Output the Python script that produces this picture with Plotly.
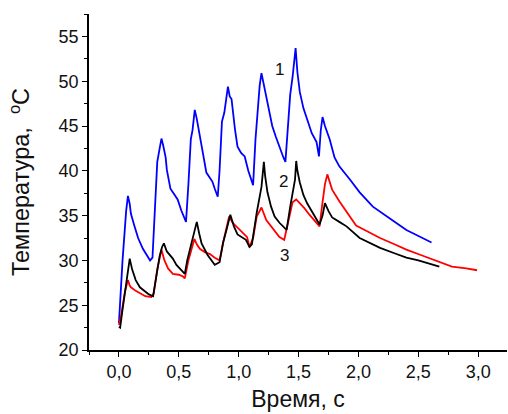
import plotly.graph_objects as go

# Curve 1 (blue)
t1 = [0.0, 0.03, 0.06, 0.075, 0.09, 0.10, 0.13, 0.16, 0.20, 0.23, 0.26, 0.28, 0.30, 0.32, 0.34, 0.355,
      0.37, 0.39, 0.40, 0.43, 0.46, 0.49, 0.52, 0.545, 0.56, 0.58, 0.60, 0.615, 0.633, 0.65, 0.675,
      0.70, 0.73, 0.76, 0.78, 0.80, 0.825, 0.84, 0.86, 0.88, 0.90, 0.91, 0.925, 0.94, 0.97, 0.99,
      1.02, 1.05, 1.08, 1.11, 1.12, 1.14, 1.16, 1.175, 1.19, 1.21, 1.23, 1.26, 1.28, 1.31, 1.34,
      1.37, 1.39, 1.41, 1.43, 1.45, 1.475, 1.49, 1.51, 1.54, 1.57, 1.61, 1.65, 1.67, 1.685, 1.70,
      1.72, 1.76, 1.80, 1.84, 1.93, 2.01, 2.12, 2.20, 2.28, 2.40, 2.50, 2.59, 2.61]
T1 = [23.0, 30.0, 35.5, 37.2, 36.3, 35.2, 33.8, 32.5, 31.3, 30.6, 30.0, 30.3, 36.5, 41.0, 42.5, 43.6,
      42.8, 41.5, 40.1, 38.0, 37.4, 36.8, 35.6, 34.8, 34.3, 38.5, 43.5, 44.6, 46.8, 45.8, 44.0,
      42.0, 39.8, 39.2, 38.8, 38.0, 37.1, 40.0, 45.5, 46.5, 48.8, 49.4, 48.3, 48.0, 44.5, 42.7,
      42.0, 41.6, 40.0, 38.8, 38.4, 43.5, 47.5, 49.5, 50.9, 49.5, 48.3, 46.0, 45.0, 43.8, 42.6,
      41.6, 41.0, 44.5, 48.5, 50.5, 53.7, 51.0, 48.8, 47.0, 45.7, 44.2, 43.2, 41.6, 44.5, 46.0,
      45.0, 43.5, 41.5, 40.5, 39.0, 37.6, 36.0, 35.2, 34.5, 33.4, 32.7, 32.1, 32.0]

# Curve 2 (black)
t2 = [0.0, 0.01, 0.03, 0.06, 0.08, 0.09, 0.11, 0.14, 0.175, 0.21, 0.25, 0.285, 0.31, 0.34, 0.36, 0.375,
      0.40, 0.45, 0.48, 0.51, 0.55, 0.57, 0.60, 0.63, 0.65, 0.67, 0.69, 0.74, 0.78, 0.80, 0.84,
      0.87, 0.90, 0.93, 0.96, 0.99, 1.06, 1.09, 1.11, 1.15, 1.19, 1.21, 1.22, 1.24, 1.27, 1.30,
      1.34, 1.38, 1.40, 1.43, 1.47, 1.48, 1.49, 1.51, 1.54, 1.57, 1.62, 1.675, 1.70, 1.72, 1.75,
      1.78, 1.84, 1.90, 2.01, 2.10, 2.18, 2.30, 2.40, 2.50, 2.57, 2.675]
T2 = [22.6, 22.5, 24.5, 27.5, 29.5, 30.2, 29.0, 27.8, 27.0, 26.6, 26.2, 26.0, 28.0, 30.5, 31.5, 31.9,
      31.0, 30.2, 29.5, 29.1, 28.5, 30.0, 31.5, 33.0, 34.3, 33.0, 31.9, 30.6, 29.8, 29.5, 29.8,
      32.0, 33.5, 35.1, 33.8, 32.9, 32.3, 31.5, 31.8, 35.3, 38.2, 41.0, 39.5, 37.6, 36.0, 34.9,
      34.2, 33.6, 33.4, 36.0, 39.0, 41.1, 40.0, 38.7, 37.3, 36.4, 35.3, 34.0, 35.0, 36.4, 35.5,
      34.8, 34.3, 33.8, 32.5, 31.9, 31.4, 30.8, 30.3, 30.0, 29.7, 29.3]

# Curve 3 (red)
t3 = [0.0, 0.02, 0.05, 0.075, 0.09, 0.10, 0.14, 0.175, 0.22, 0.27, 0.29, 0.32, 0.355, 0.38, 0.41, 0.45,
      0.50, 0.535, 0.55, 0.58, 0.61, 0.63, 0.65, 0.675, 0.72, 0.76, 0.80, 0.84, 0.87, 0.90, 0.92,
      0.95, 0.98, 1.03, 1.07, 1.09, 1.12, 1.15, 1.19, 1.23, 1.28, 1.34, 1.38, 1.41, 1.45, 1.48,
      1.51, 1.55, 1.59, 1.66, 1.675, 1.70, 1.72, 1.74, 1.76, 1.78, 1.84, 1.87, 1.98, 2.08, 2.18,
      2.30, 2.40, 2.52, 2.62, 2.70, 2.78, 2.90, 2.99]
T3 = [22.8, 24.0, 26.5, 27.8, 27.2, 27.0, 26.6, 26.3, 26.0, 25.9, 26.3, 29.0, 31.2, 30.0, 29.1, 28.5,
      28.4, 28.2, 28.0, 30.0, 31.5, 32.4, 31.8, 31.3, 30.9, 30.7, 30.3, 30.0, 32.0, 33.8, 34.9,
      34.2, 33.8, 33.2, 32.6, 31.5, 32.5, 34.9, 35.9, 34.5, 33.6, 32.6, 32.3, 34.0, 36.5, 36.8,
      36.4, 35.8, 35.1, 34.0, 33.8, 36.5, 38.5, 39.6, 38.8, 37.9, 36.6, 36.0, 33.9, 33.2, 32.5,
      31.8, 31.2, 30.6, 30.1, 29.7, 29.3, 29.1, 28.9]

labels = ["1", "2", "3"]
label_x = [1.34, 1.37, 1.38]
label_y = [51.3, 38.8, 30.6]

x_ticks = [0.0, 0.5, 1.0, 1.5, 2.0, 2.5, 3.0]
y_ticks = [20, 25, 30, 35, 40, 45, 50, 55]

FONT = "Liberation Sans, Arial, sans-serif"
TXT = "#111111"

fig = go.Figure()
fig.add_trace(go.Scatter(x=t1, y=T1, mode="lines", line=dict(color="#0000ff", width=1.8), showlegend=False))
fig.add_trace(go.Scatter(x=t3, y=T3, mode="lines", line=dict(color="#ff0000", width=1.8), showlegend=False))
fig.add_trace(go.Scatter(x=t2, y=T2, mode="lines", line=dict(color="#000000", width=1.8), showlegend=False))

for s, lx, ly in zip(labels, label_x, label_y):
    fig.add_annotation(x=lx, y=ly, text=s, showarrow=False,
                       font=dict(family=FONT, size=17, color=TXT))

fig.update_layout(
    width=508, height=414,
    margin=dict(l=89, r=1, t=14, b=64),
    paper_bgcolor="white", plot_bgcolor="white",
    separators=", ",
    font=dict(family=FONT, color=TXT),
)
fig.update_xaxes(
    range=[-0.25, 3.24], tickvals=x_ticks, tickformat=".1f",
    showgrid=False, zeroline=False,
    showline=True, linecolor="black", linewidth=1.5,
    ticks="outside", ticklen=5, tickwidth=1.2, tickcolor="black",
    minor=dict(ticks="outside", ticklen=3, tickwidth=1.2, tickcolor="black", dtick=0.25, tick0=0.25, showgrid=False),
    tickfont=dict(size=18, family=FONT, color=TXT),
    title=dict(text="Время, с", font=dict(size=23, family=FONT, color=TXT), standoff=10),
)
fig.update_yaxes(
    range=[20, 57.5], tickvals=y_ticks,
    showgrid=False, zeroline=False,
    showline=True, linecolor="black", linewidth=1.5,
    ticks="outside", ticklen=5, tickwidth=1.2, tickcolor="black",
    minor=dict(ticks="outside", ticklen=3, tickwidth=1.2, tickcolor="black", dtick=2.5, tick0=22.5, showgrid=False),
    tickfont=dict(size=18, family=FONT, color=TXT),
    title=dict(text="Температура,  <sup>o</sup>C", font=dict(size=23.5, family=FONT, color=TXT), standoff=22),
)

fig.write_html("out.html")
